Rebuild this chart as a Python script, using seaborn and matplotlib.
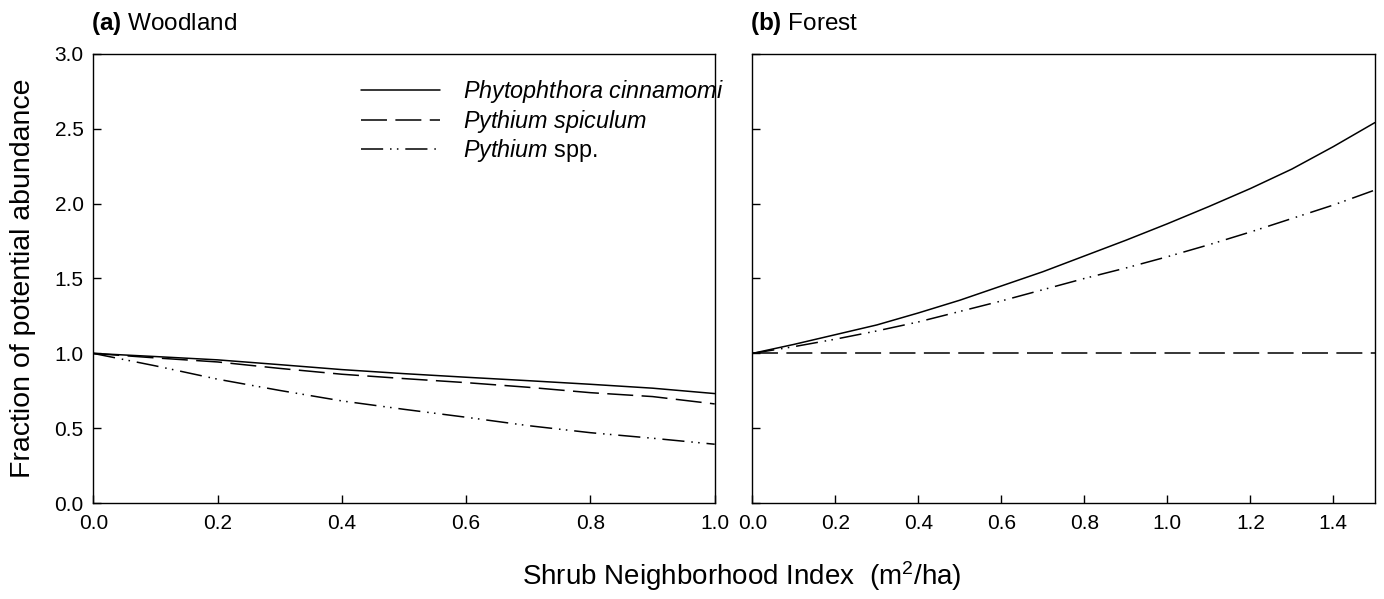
import numpy as np
import pandas as pd
import matplotlib
matplotlib.use("Agg")
import matplotlib.pyplot as plt
import seaborn as sns

# ---- data ----
species = ["Phytophthora cinnamomi", "Pythium spiculum", "Pythium spp."]
legend_labels = [r"$\it{Phytophthora\ cinnamomi}$",
                 r"$\it{Pythium\ spiculum}$",
                 r"$\it{Pythium}$ spp."]

x_wood = [0.0, 0.1, 0.2, 0.3, 0.4, 0.5, 0.6, 0.7, 0.8, 0.9, 1.0]
wood_phyto = [1.0, 0.979, 0.957, 0.925, 0.892, 0.865, 0.841, 0.818, 0.794, 0.768, 0.732]
wood_spic = [1.0, 0.970, 0.943, 0.900, 0.861, 0.832, 0.805, 0.774, 0.738, 0.712, 0.663]
wood_spp = [1.0, 0.917, 0.828, 0.753, 0.683, 0.627, 0.574, 0.518, 0.471, 0.434, 0.394]

x_forest = [0.0, 0.1, 0.2, 0.3, 0.4, 0.5, 0.6, 0.7, 0.8, 0.9, 1.0, 1.1, 1.2, 1.3, 1.4, 1.5]
forest_phyto = [1.0, 1.06, 1.125, 1.19, 1.27, 1.355, 1.45, 1.545, 1.65, 1.755, 1.865,
                1.98, 2.10, 2.23, 2.38, 2.54]
forest_spic = [1.0, 1.0, 1.0, 1.0, 1.0, 1.0, 1.0, 1.0, 1.0, 1.0, 1.0,
               1.0, 1.0, 1.0, 1.0, 1.0]
forest_spp = [1.0, 1.045, 1.095, 1.15, 1.21, 1.28, 1.35, 1.425, 1.50, 1.57, 1.645,
              1.725, 1.81, 1.90, 1.99, 2.09]

wood_xticks = [0.0, 0.2, 0.4, 0.6, 0.8, 1.0]
forest_xticks = [0.0, 0.2, 0.4, 0.6, 0.8, 1.0, 1.2, 1.4]
yticks = [0.0, 0.5, 1.0, 1.5, 2.0, 2.5, 3.0]


def long_df(x, series):
    rows = []
    for name, vals in zip(species, series):
        for xi, yi in zip(x, vals):
            rows.append({"x": xi, "y": yi, "species": name})
    return pd.DataFrame(rows)


df_wood = long_df(x_wood, [wood_phyto, wood_spic, wood_spp])
df_forest = long_df(x_forest, [forest_phyto, forest_spic, forest_spp])

# ---- style ----
sns.set_theme(style="ticks")
plt.rcParams["font.family"] = ["Liberation Sans", "DejaVu Sans"]
plt.rcParams["mathtext.fontset"] = "custom"
plt.rcParams["mathtext.rm"] = "Liberation Sans"
plt.rcParams["mathtext.it"] = "Liberation Sans:italic"
plt.rcParams["mathtext.bf"] = "Liberation Sans:bold"
plt.rcParams["axes.linewidth"] = 1.0
plt.rcParams["axes.edgecolor"] = "black"
plt.rcParams["text.color"] = "black"
plt.rcParams["axes.labelcolor"] = "black"
plt.rcParams["xtick.color"] = "black"
plt.rcParams["ytick.color"] = "black"

dash_styles = {
    "Phytophthora cinnamomi": "",
    "Pythium spiculum": (17, 5.5),
    "Pythium spp.": (14.5, 4.5, 1.0, 3.5, 1.0, 4.5),
}

fig = plt.figure(figsize=(13.84, 5.99), dpi=100)
ax1 = fig.add_axes([0.0674, 0.1598, 0.4490, 0.7506])
ax2 = fig.add_axes([0.5436, 0.1598, 0.4498, 0.7506])

sns.lineplot(data=df_wood, x="x", y="y", style="species", style_order=species,
             dashes=dash_styles, color="black", linewidth=1.1, ax=ax1, legend=True)
sns.lineplot(data=df_forest, x="x", y="y", style="species", style_order=species,
             dashes=dash_styles, color="black", linewidth=1.1, ax=ax2, legend=False)

for ax in (ax1, ax2):
    ax.set_ylim(0, 3.0)
    ax.set_yticks(yticks)
    ax.set_xlabel("")
    ax.set_ylabel("")
    for sp in ax.spines.values():
        sp.set_visible(True)
        sp.set_color("black")
        sp.set_linewidth(1.0)
    ax.tick_params(direction="in", length=6, width=1.0, colors="black",
                   labelcolor="black", labelsize=15, pad=7)
    ax.tick_params(axis="x", pad=8)

ax1.set_xlim(0, 1.0)
ax1.set_xticks(wood_xticks)
ax1.set_xticklabels([f"{v:.1f}" for v in wood_xticks])
ax1.set_yticklabels([f"{v:.1f}" for v in yticks])

ax2.set_xlim(0, 1.5)
ax2.set_xticks(forest_xticks)
ax2.set_xticklabels([f"{v:.1f}" for v in forest_xticks])
ax2.set_yticklabels([])

# legend
handles, _ = ax1.get_legend_handles_labels()
if ax1.get_legend() is not None:
    ax1.get_legend().remove()
leg = ax1.legend(handles[-3:], legend_labels, loc="upper left",
                 bbox_to_anchor=(0.2606, 0.8700), bbox_transform=fig.transFigure,
                 frameon=False, borderpad=0, borderaxespad=0,
                 handlelength=3.4, handletextpad=1.0, labelspacing=0.12,
                 fontsize=16.8)
for h in leg.get_lines():
    h.set_color("black")
    h.set_linewidth(1.1)
for t in leg.get_texts():
    t.set_color("black")

# titles
fig.text(0.0655, 0.950, r"$\bf{(a)}$ Woodland", fontsize=17.5, ha="left", va="baseline")
fig.text(0.5420, 0.950, r"$\bf{(b)}$ Forest", fontsize=17.5, ha="left", va="baseline")

# axis labels
fig.text(0.0163, 0.535, "Fraction of potential abundance", rotation=90,
         fontsize=20.5, ha="center", va="center")
fig.text(0.536, 0.0234, r"Shrub Neighborhood Index  (m$^2$/ha)",
         fontsize=20, ha="center", va="baseline")

fig.savefig("out.png", dpi=100)
